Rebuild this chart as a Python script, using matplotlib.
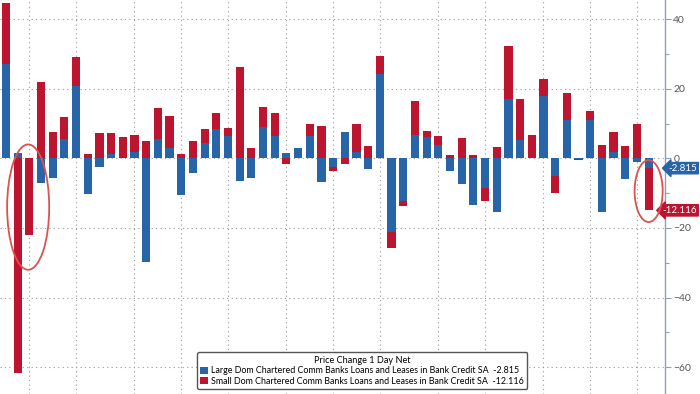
import matplotlib
matplotlib.use("Agg")
import matplotlib.pyplot as plt
from matplotlib.patches import Ellipse
from matplotlib.ticker import MultipleLocator, FixedLocator
import matplotlib.transforms as mtransforms
import numpy as np

plt.rcParams['font.family'] = ['Lato', 'DejaVu Sans']

large = [27.1, 1.6, 0.0, -7.2, -5.7, 5.5, 20.9, -10.1, -2.4, 1.2, 0.0, 1.8, -29.9, 5.5,
         3.0, -10.5, -4.1, 4.3, 8.3, 6.4, -6.5, -5.6, 9.1, 6.4, 1.4, 3.0, 6.5, -6.8,
         -2.4, 7.5, 1.9, -3.1, 24.1, -21.1, -12.2, 6.7, 6.0, 3.8, -3.6, -7.4, -13.4,
         -8.6, -15.5, 17.0, 5.3, 0.0, 18.0, -5.1, 11.0, -0.3, 11.0, -15.5, 1.9, -5.9,
         -1.1, -2.815]
small = [17.4, -61.6, -22.0, 21.9, 7.5, 6.5, 8.3, 1.2, 7.4, 6.2, 6.0, 5.0, 5.1, 9.0,
         9.2, 1.2, 5.1, 4.0, 4.8, 2.4, 26.3, 2.9, 5.6, 6.7, -1.6, 0.0, 3.5, 9.3,
         -1.1, -1.6, 7.9, 3.6, 5.4, -4.7, -1.4, 9.8, 1.9, 2.6, 1.1, 5.9, 0.9,
         -3.6, 3.3, 15.3, 11.7, 6.6, 4.8, -4.8, 7.7, -0.3, 2.7, 3.7, 5.6, 3.6,
         9.8, -12.116]
month_marks = [2, 6, 11, 15, 19, 24, 28, 32, 37, 41, 46, 50, 54]
legend_title = "Price Change 1 Day Net"
name_large = "Large Dom Chartered Comm Banks Loans and Leases in Bank Credit SA"
name_small = "Small Dom Chartered Comm Banks Loans and Leases in Bank Credit SA"

BLUE = "#2765a8"
RED = "#bd1530"

large_a = np.array(large)
small_a = np.array(small)
x = np.arange(len(large))
bottom_small = np.where(small_a >= 0, np.maximum(large_a, 0), np.minimum(large_a, 0))

fig = plt.figure(figsize=(7, 3.94), dpi=100)
ax = fig.add_axes([0, 0, 665 / 700, 1])

ax.bar(x, large_a, width=0.7, color=BLUE, zorder=3, label=f"{name_large}  {large[-1]:.3f}")
ax.bar(x, small_a, width=0.7, bottom=bottom_small, color=RED, zorder=3,
       label=f"{name_small}  {small[-1]:.3f}")

ax.set_xlim(-0.51, 56.4)
ax.set_ylim(-67.7, 45.5)

ax.yaxis.tick_right()
ax.yaxis.set_major_locator(MultipleLocator(20))
ax.yaxis.set_minor_locator(MultipleLocator(10))
ax.xaxis.set_major_locator(FixedLocator(month_marks))
ax.tick_params(axis='x', length=0, labelbottom=False)
ax.tick_params(axis='y', which='major', length=4, width=0.8, color="#8da2b8",
               labelsize=7.5, labelcolor="#555555", pad=2)
ax.tick_params(axis='y', which='minor', length=3, width=0.8, color="#8da2b8")
for s in ['top', 'left', 'bottom']:
    ax.spines[s].set_visible(False)
ax.spines['right'].set_color("#8da2b8")
ax.spines['right'].set_linewidth(1.0)
ax.grid(True, which='major', linestyle=(0, (1, 3)), color="#9a9a9a", linewidth=0.8, zorder=0)

# value tags on the right axis
trans = mtransforms.blended_transform_factory(fig.transFigure, ax.transData)
last_l = large[-1]
last_total = large[-1] + small[-1]
ax.text(0.996, last_l, f"{large[-1]:.3f}", transform=trans, ha='right', va='center',
        fontsize=7, color='white', clip_on=False,
        bbox=dict(boxstyle='larrow,pad=0.12', fc=BLUE, ec=BLUE))
ax.text(0.996, last_total, f"{small[-1]:.3f}", transform=trans, ha='right', va='center',
        fontsize=7, color='white', clip_on=False,
        bbox=dict(boxstyle='larrow,pad=0.12', fc=RED, ec=RED))

# highlight ellipses
ax.add_patch(Ellipse((1.9, -14.0), 3.6, 36, fill=False, ec="#d9534f", lw=1.3, zorder=4))
ax.add_patch(Ellipse((55.0, -9.4), 2.4, 17.8, fill=False, ec="#d9534f", lw=1.3, zorder=4))

leg = ax.legend(loc='lower left', bbox_to_anchor=(0.296, 0.012), title=legend_title,
                fontsize=6.4, title_fontsize=6.6, frameon=True, fancybox=True,
                handlelength=0.9, handleheight=0.9, handletextpad=0.3,
                borderpad=0.4, labelspacing=0.15, borderaxespad=0)
leg.get_frame().set_edgecolor("#555555")
leg.get_frame().set_linewidth(1.0)
leg.get_frame().set_alpha(1)
leg.set_zorder(10)

fig.savefig("out.png", dpi=100)
